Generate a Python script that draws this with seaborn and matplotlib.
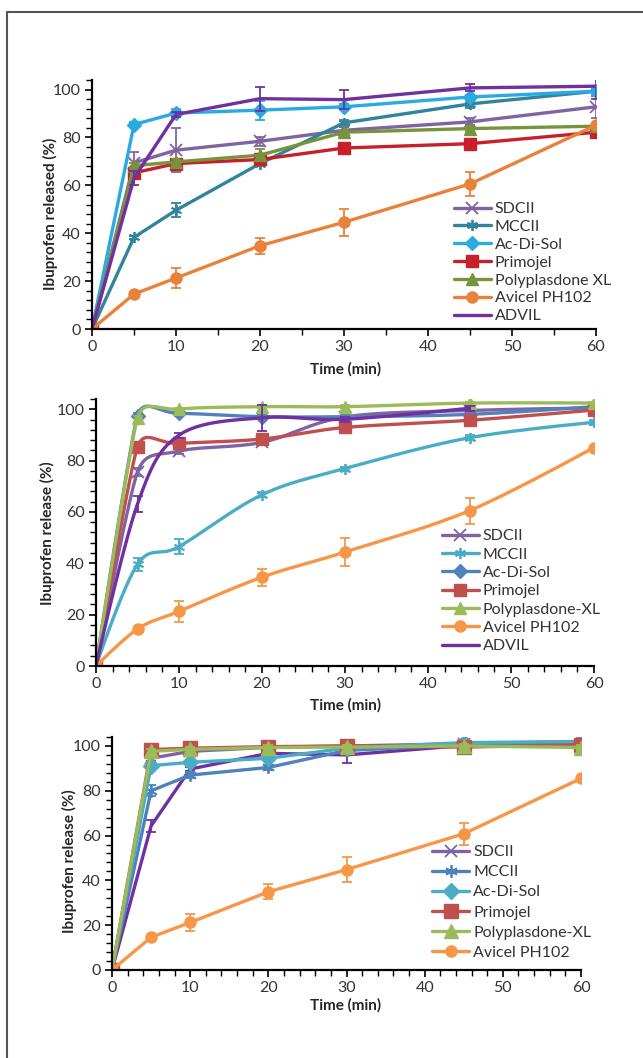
import numpy as np
import matplotlib
matplotlib.use("Agg")
import matplotlib.pyplot as plt
from matplotlib.lines import Line2D
from matplotlib.ticker import MultipleLocator
import seaborn as sns

sns.set_style("white")
plt.rcParams['font.family'] = ['Lato', 'DejaVu Sans']

# ---------------- data ----------------
t = [0, 5, 10, 20, 30, 45, 60]
names1 = ["SDCII", "MCCII", "Ac-Di-Sol", "Primojel", "Polyplasdone XL", "Avicel PH102", "ADVIL"]
names2 = ["SDCII", "MCCII", "Ac-Di-Sol", "Primojel", "Polyplasdone-XL", "Avicel PH102", "ADVIL"]

# Panel 1
p1_sdcii = [0, 69.4, 74.7, 78.4, 83.0, 86.5, 92.8]
p1_mccii = [0, 38.3, 49.6, 69.1, 86.1, 94.0, 99.3]
p1_acdisol = [0, 85.4, 90.2, 91.4, 92.8, 96.9, 99.3]
p1_primojel = [0, 65.2, 69.1, 70.8, 75.6, 77.4, 82.2]
p1_poly = [0, 68.2, 69.8, 72.6, 82.2, 83.7, 84.7]
p1_avicel = [0, 14.6, 21.3, 34.8, 44.6, 60.6, 85.1]
p1_advil = [0, 63.0, 89.6, 96.2, 95.8, 100.7, 101.4]
p1_sdcii_err = [0, 4.5, 9.3, 2.0, 1.5, 1.5, 4.7]
p1_mccii_err = [0, 0.5, 3.0, 1.0, 1.0, 1.5, 0.5]
p1_acdisol_err = [0, 1.0, 1.5, 4.0, 1.0, 1.0, 1.0]
p1_primojel_err = [0, 2.0, 1.5, 1.0, 1.0, 1.0, 1.0]
p1_poly_err = [0, 1.0, 1.0, 2.5, 1.0, 1.0, 1.0]
p1_avicel_err = [0, 0.5, 4.0, 3.3, 5.6, 5.0, 1.0]
p1_advil_err = [0, 3.0, 1.0, 5.0, 4.0, 1.5, 5.3]

# Panel 2
t_advil2 = [0, 5, 10, 20, 30, 45]
p2_sdcii = [0, 75.6, 83.7, 87.1, 97.0, 99.5, 100.5]
p2_mccii = [0, 39.6, 46.5, 66.7, 76.9, 88.9, 94.9]
p2_acdisol = [0, 97.5, 98.4, 97.1, 97.1, 98.0, 101.0]
p2_primojel = [0, 85.4, 86.7, 88.4, 92.9, 95.7, 99.7]
p2_poly = [0, 96.7, 100.1, 101.0, 101.0, 102.4, 102.4]
p2_avicel = [0, 14.4, 21.3, 34.6, 44.4, 60.5, 85.1]
p2_advil = [0, 63.1, 89.9, 96.7, 96.1, 100.4]
p2_sdcii_err = [0, 1.5, 1.0, 1.0, 1.0, 1.0, 1.0]
p2_mccii_err = [0, 2.5, 3.0, 1.0, 0.5, 1.0, 1.0]
p2_acdisol_err = [0, 1.0, 1.0, 1.0, 1.0, 1.0, 0.5]
p2_primojel_err = [0, 1.0, 1.0, 1.0, 1.0, 1.0, 1.0]
p2_poly_err = [0, 0.5, 0.5, 0.5, 0.5, 0.5, 0.5]
p2_avicel_err = [0, 0.5, 4.0, 3.3, 5.6, 5.0, 0.5]
p2_advil_err = [0, 3.0, 1.0, 5.0, 1.0, 1.0]

# Panel 3
p3_sdcii = [0, 94.5, 97.6, 99.4, 100.0, 101.0, 102.0]
p3_mccii = [0, 80.0, 87.0, 90.4, 98.0, 100.5, 101.5]
p3_acdisol = [0, 91.2, 92.7, 94.5, 99.0, 101.5, 102.0]
p3_primojel = [0, 98.4, 99.0, 99.7, 100.0, 99.5, 100.5]
p3_poly = [0, 97.6, 98.5, 99.3, 99.5, 100.0, 99.3]
p3_avicel = [0, 14.6, 21.2, 34.9, 44.8, 60.8, 85.5]
p3_advil = [0, 64.3, 89.7, 96.7, 96.0, 100.2, 101.0]
p3_sdcii_err = [0, 1.0, 1.0, 1.0, 1.0, 1.0, 1.0]
p3_mccii_err = [0, 2.5, 1.5, 1.0, 1.0, 1.0, 1.0]
p3_acdisol_err = [0, 1.0, 1.0, 1.0, 1.0, 1.0, 1.0]
p3_primojel_err = [0, 1.0, 2.5, 1.0, 1.0, 1.0, 1.0]
p3_poly_err = [0, 1.0, 1.0, 1.0, 1.0, 1.0, 1.0]
p3_avicel_err = [0, 0.5, 4.0, 3.3, 5.6, 5.0, 0.5]
p3_advil_err = [0, 2.5, 1.0, 1.0, 3.4, 1.0, 5.0]

# ---------------- styles ----------------
markers = ["x", (6, 2, 0), "D", "s", "^", "o", None]
colors1 = ["#8064A2", "#31849B", "#29ABE2", "#C8202A", "#77933C", "#E8823A", "#7030A0"]
colors2 = ["#8064A2", "#4BACC6", "#4F81BD", "#C0504D", "#9BBB59", "#F79646", "#7030A0"]
colors3 = ["#8064A2", "#4F81BD", "#4BACC6", "#C0504D", "#9BBB59", "#F79646", "#7030A0"]
msizes = [8, 8, 7, 8, 8, 8, 0]
msizes3 = [9, 9, 8, 10, 10, 8, 0]
LW = 2.4
XLIM = (0, 60)
YLIM = (0, 104)


def excel_smooth(ax, x, y, n=30):
    """Bezier smoothing in screen space, in the manner of spreadsheet smoothed lines."""
    bb = ax.get_window_extent()
    sx = bb.width / (XLIM[1] - XLIM[0])
    sy = bb.height / (YLIM[1] - YLIM[0])
    pts = np.column_stack([np.asarray(x, float) * sx, np.asarray(y, float) * sy])
    m = len(pts)

    def tangent(i):
        p0 = pts[max(i - 1, 0)]
        p1 = pts[i]
        p2 = pts[min(i + 1, m - 1)]
        d01 = np.hypot(*(p1 - p0))
        d12 = np.hypot(*(p2 - p1))
        d02 = np.hypot(*(p2 - p0))
        if d02 == 0:
            return np.zeros(2)
        if d01 / 6 < d12 / 2 and d12 / 6 < d01 / 2:
            f = 1 / 6
        else:
            f = min(d01, d12) / (2 * d02)
        return (p2 - p0) * f

    tans = [tangent(i) for i in range(m)]
    s = np.linspace(0, 1, n)[:, None]
    xs, ys = [], []
    for i in range(m - 1):
        p1, p2 = pts[i], pts[i + 1]
        c1 = p1 + tans[i]
        c2 = p2 - tans[i + 1]
        b = ((1 - s) ** 3) * p1 + 3 * ((1 - s) ** 2) * s * c1 + 3 * (1 - s) * s ** 2 * c2 + s ** 3 * p2
        xs.extend(b[:, 0] / sx)
        ys.extend(b[:, 1] / sy)
    return np.array(xs), np.array(ys)


def draw_series(ax, x, y, err, color, marker, ms, smooth=False):
    if smooth:
        xs, ys = excel_smooth(ax, x, y)
        sns.lineplot(x=xs, y=ys, sort=False, estimator=None, color=color, lw=LW, ax=ax, legend=False)
    else:
        sns.lineplot(x=x, y=y, sort=False, estimator=None, color=color, lw=LW, ax=ax, legend=False)
    ax.errorbar(x, y, yerr=err, fmt="none", ecolor=color, elinewidth=1.3, capsize=3.5, capthick=1.3)
    if marker is not None:
        if marker == "x" or isinstance(marker, tuple):
            ax.plot(x, y, ls="none", marker=marker, ms=ms, mec=color, mew=1.3, color=color)
        else:
            ax.plot(x, y, ls="none", marker=marker, ms=ms, mfc=color, mec=color, color=color)


def style_axes(ax, xminor, ylabel, xlab_xy, ylab_xy):
    ax.set_xlim(*XLIM)
    ax.set_ylim(*YLIM)
    ax.xaxis.set_major_locator(MultipleLocator(10))
    ax.xaxis.set_minor_locator(MultipleLocator(xminor))
    ax.yaxis.set_major_locator(MultipleLocator(20))
    ax.yaxis.set_minor_locator(MultipleLocator(4))
    for sp in ["top", "right"]:
        ax.spines[sp].set_visible(False)
    for sp in ["left", "bottom"]:
        ax.spines[sp].set_color("black")
        ax.spines[sp].set_linewidth(1.6)
    ax.tick_params(which="major", direction="out", length=5, width=1.2, color="black",
                   labelsize=11.5, labelcolor="#333333", left=True, bottom=True, pad=3)
    ax.tick_params(which="minor", direction="out", length=4, width=1.0, color="black", left=True, bottom=True)
    ax.set_xlabel("Time (min)", fontsize=11, fontweight="bold", va="center")
    ax.set_ylabel(ylabel, fontsize=11, fontweight="bold", va="center")
    ax.xaxis.set_label_coords(*xlab_xy)
    ax.yaxis.set_label_coords(*ylab_xy)
    ax.patch.set_alpha(0)


def add_legend(ax, names, colors, mks, sizes, anchor, spacing):
    handles = []
    for n, c, m, s in zip(names, colors, mks, sizes):
        if m is None:
            handles.append(Line2D([], [], color=c, lw=LW, label=n))
        elif m == "x" or isinstance(m, tuple):
            handles.append(Line2D([], [], color=c, lw=LW, marker=m, ms=s, mec=c, mew=1.3, label=n))
        else:
            handles.append(Line2D([], [], color=c, lw=LW, marker=m, ms=s, mfc=c, mec=c, label=n))
    leg = ax.legend(handles=handles, labels=list(names), loc="upper left", bbox_to_anchor=anchor,
                    frameon=False, fontsize=11.5, handlelength=2.3, handletextpad=0.25,
                    labelspacing=spacing, borderpad=0, borderaxespad=0)
    for txt in leg.get_texts():
        txt.set_color("#333333")


fig = plt.figure(figsize=(6.43, 10.58), dpi=100)

# ---- panel 1 ----
ax1 = fig.add_axes([0.1431, 0.6890, 0.7838, 0.2354])
lab1 = ((0.504, -0.160), (-0.083, 0.462))
style_axes(ax1, 5, "Ibuprofen released (%)", *lab1)
data1 = [p1_sdcii, p1_mccii, p1_acdisol, p1_primojel, p1_poly, p1_avicel, p1_advil]
err1 = [p1_sdcii_err, p1_mccii_err, p1_acdisol_err, p1_primojel_err, p1_poly_err, p1_avicel_err, p1_advil_err]
for y, e, c, m, s in zip(data1, err1, colors1, markers, msizes):
    draw_series(ax1, t, y, e, c, m, s)
style_axes(ax1, 5, "Ibuprofen released (%)", *lab1)
add_legend(ax1, names1, colors1, markers, msizes, (0.718, 0.51), 0.23)

# ---- panel 2 ----
ax2 = fig.add_axes([0.1493, 0.3705, 0.7745, 0.2524])
lab2 = ((0.502, -0.146), (-0.098, 0.498))
style_axes(ax2, 2, "Ibuprofen release (%)", *lab2)
data2 = [p2_sdcii, p2_mccii, p2_acdisol, p2_primojel, p2_poly, p2_avicel]
err2 = [p2_sdcii_err, p2_mccii_err, p2_acdisol_err, p2_primojel_err, p2_poly_err, p2_avicel_err]
for y, e, c, m, s in zip(data2, err2, colors2[:6], markers[:6], msizes[:6]):
    draw_series(ax2, t, y, e, c, m, s, smooth=True)
draw_series(ax2, t_advil2, p2_advil, p2_advil_err, colors2[6], None, 0, smooth=True)
style_axes(ax2, 2, "Ibuprofen release (%)", *lab2)
add_legend(ax2, names2, colors2, markers, msizes, (0.695, 0.513), 0.26)

# ---- panel 3 ----
ax3 = fig.add_axes([0.1742, 0.0832, 0.7294, 0.2202])
lab3 = ((0.499, -0.150), (-0.090, 0.468))
style_axes(ax3, 2, "Ibuprofen release (%)", *lab3)
data3 = [p3_sdcii, p3_mccii, p3_acdisol, p3_primojel, p3_poly, p3_avicel]
err3 = [p3_sdcii_err, p3_mccii_err, p3_acdisol_err, p3_primojel_err, p3_poly_err, p3_avicel_err]
draw_series(ax3, t, p3_advil, p3_advil_err, colors3[6], None, 0)
for y, e, c, m, s in zip(data3, err3, colors3[:6], markers[:6], msizes3[:6]):
    draw_series(ax3, t, y, e, c, m, s)
style_axes(ax3, 2, "Ibuprofen release (%)", *lab3)
add_legend(ax3, names2[:6], colors3[:6], markers[:6], msizes3[:6], (0.683, 0.536), 0.37)

# outer frame (left and top edges)
fig.add_artist(Line2D([7 / 643, 7 / 643], [0, 1 - 12 / 1058], transform=fig.transFigure, color="#555555", lw=1.5))
fig.add_artist(Line2D([7 / 643, 1], [1 - 12 / 1058, 1 - 12 / 1058], transform=fig.transFigure, color="#555555", lw=1.5))

fig.savefig("out.png", dpi=100)
